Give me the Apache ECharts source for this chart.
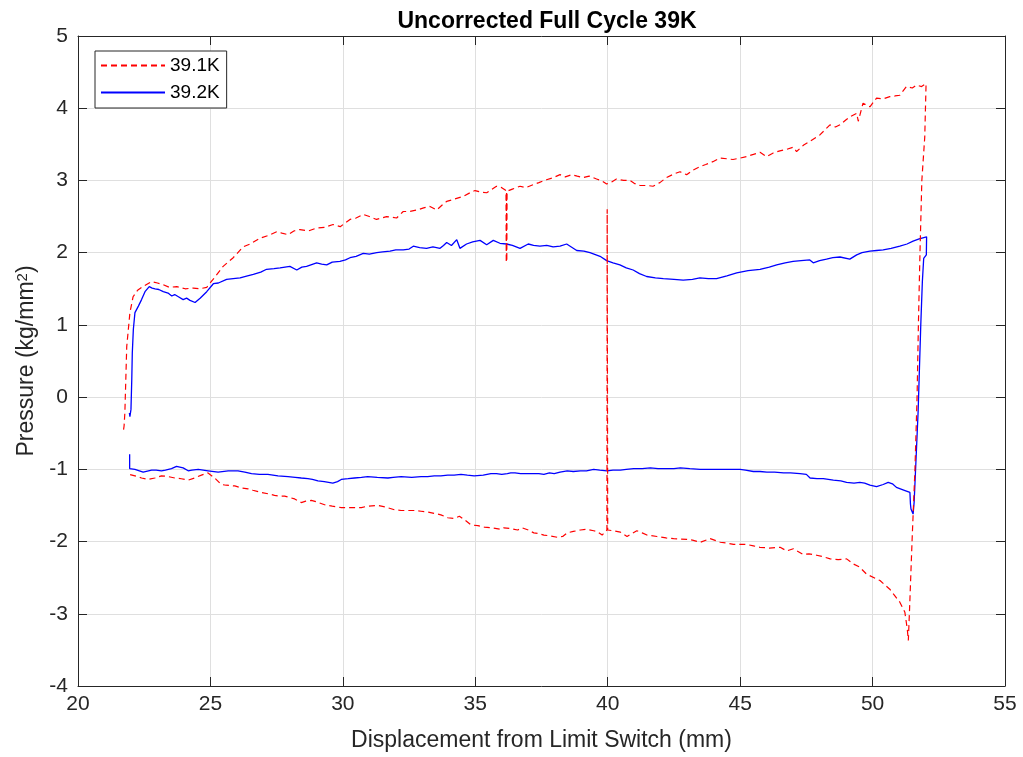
<!DOCTYPE html>
<html>
<head>
<meta charset="utf-8">
<script src="https://cdn.jsdelivr.net/npm/echarts@6/dist/echarts.min.js"></script>
<style>
html,body{margin:0;padding:0;background:#fff;}
#chart{width:1023px;height:757px;}
</style>
</head>
<body>
<div id="chart"></div>
<script>
// ---- data ----
const chartTitle = 'Uncorrected Full Cycle 39K';
const seriesNames = ['39.1K', '39.2K'];
const xRange = [20, 55];
const xStep = 5;
const yRange = [-4, 5];
const yStep = 1;

// 39.1K : displacement (mm), pressure (kg/mm^2) in the order of the cycle
const red39_1 = [
[21.72,-0.45],[21.74,-0.40],[21.77,-0.21],[21.84,0.70],[21.96,1.17],[22.08,1.39],[22.25,1.48],[22.45,1.53],[22.78,1.60],[23.0,1.58],[23.2,1.56],[23.45,1.52],[23.73,1.53],[24.05,1.50],[24.35,1.51],[24.6,1.50],[24.86,1.52],[25.1,1.63],[25.48,1.81],[25.86,1.93],[26.23,2.08],[26.5,2.12],[26.87,2.20],[27.2,2.24],[27.5,2.29],[27.7,2.27],[27.93,2.25],[28.15,2.30],[28.38,2.32],[28.7,2.30],[29.0,2.34],[29.3,2.35],[29.63,2.39],[29.9,2.36],[30.27,2.46],[30.5,2.48],[30.77,2.53],[31.0,2.50],[31.27,2.46],[31.65,2.50],[32.03,2.48],[32.28,2.57],[32.5,2.57],[32.79,2.59],[33.05,2.62],[33.29,2.64],[33.54,2.59],[33.75,2.66],[33.92,2.71],[34.2,2.74],[34.55,2.78],[34.8,2.83],[34.99,2.86],[35.2,2.84],[35.43,2.83],[35.8,2.92],[36.0,2.90],[36.16,2.86],
[36.17,1.86],[36.18,2.84],[36.19,1.88],[36.2,2.85],
[36.4,2.88],[36.69,2.92],[36.9,2.90],[37.18,2.94],[37.4,2.97],[37.69,3.01],[37.95,3.04],[38.2,3.08],[38.4,3.05],[38.64,3.08],[38.85,3.06],[39.07,3.04],[39.3,3.06],[39.58,3.02],[39.8,2.99],[39.96,2.95],[40.15,2.98],[40.33,3.02],[40.6,3.0],[40.84,3.0],[41.0,2.96],[41.22,2.93],[41.5,2.93],[41.71,2.92],[41.97,2.97],[42.22,3.04],[42.5,3.09],[42.73,3.12],[42.98,3.08],[43.2,3.14],[43.48,3.19],[43.7,3.22],[43.97,3.26],[44.24,3.31],[44.5,3.30],[44.73,3.29],[45.0,3.31],[45.24,3.33],[45.5,3.36],[45.75,3.39],[46.0,3.33],[46.25,3.38],[46.5,3.41],[46.75,3.43],[47.0,3.46],[47.13,3.40],[47.4,3.49],[47.63,3.54],[48.01,3.63],[48.2,3.70],[48.39,3.77],[48.6,3.74],[48.77,3.77],[49.0,3.84],[49.14,3.88],[49.4,3.93],[49.46,3.82],[49.64,4.07],[49.9,4.02],[50.15,4.14],[50.4,4.13],[50.65,4.16],[50.85,4.17],[51.03,4.18],[51.28,4.30],[51.5,4.28],[51.66,4.32],[51.85,4.30],[52.02,4.34],
[51.97,3.6],[51.86,3.0],[51.79,2.0],[51.73,1.0],[51.68,0.0],[51.6,-1.0],[51.49,-2.0],[51.39,-3.0],[51.35,-3.37],
[51.31,-3.21],[51.22,-2.98],[51.03,-2.84],[50.65,-2.66],[50.28,-2.54],[49.77,-2.45],[49.5,-2.35],[49.27,-2.31],[49.02,-2.24],[48.7,-2.25],[48.4,-2.24],[48.14,-2.21],[47.89,-2.19],[47.6,-2.17],[47.39,-2.18],[47.01,-2.10],[46.76,-2.13],[46.51,-2.08],[46.1,-2.09],[45.75,-2.08],[45.5,-2.06],[45.25,-2.04],[44.75,-2.04],[44.5,-2.02],[44.25,-2.01],[43.87,-1.96],[43.49,-2.01],[43.2,-1.98],[42.99,-1.97],[42.49,-1.96],[42.2,-1.95],[41.86,-1.93],[41.48,-1.91],[41.3,-1.88],[41.1,-1.85],[40.73,-1.93],[40.48,-1.87],[40.2,-1.85],[40.0,-1.84],
[39.98,2.60],[39.97,-1.84],
[39.79,-1.91],[39.6,-1.86],[39.47,-1.85],[39.2,-1.83],[38.97,-1.84],[38.7,-1.86],[38.47,-1.88],[38.3,-1.93],[38.09,-1.94],[37.8,-1.92],[37.59,-1.91],[37.4,-1.89],[37.21,-1.88],[37.0,-1.84],[36.77,-1.81],[36.6,-1.84],[36.33,-1.82],[36.08,-1.81],[35.97,-1.83],[35.6,-1.81],[35.34,-1.80],[35.1,-1.78],[34.84,-1.77],[34.6,-1.70],[34.4,-1.65],[34.2,-1.68],[33.96,-1.67],[33.7,-1.63],[33.45,-1.61],[33.2,-1.59],[32.95,-1.58],[32.7,-1.57],[32.45,-1.57],[32.2,-1.57],[31.95,-1.56],[31.6,-1.52],[31.32,-1.50],[30.94,-1.51],[30.7,-1.53],[30.44,-1.53],[29.94,-1.53],[29.6,-1.51],[29.31,-1.49],[29.0,-1.45],[28.81,-1.43],[28.6,-1.44],[28.43,-1.46],[28.18,-1.41],[27.8,-1.37],[27.6,-1.37],[27.42,-1.36],[27.2,-1.34],[26.92,-1.32],[26.6,-1.29],[26.42,-1.27],[26.2,-1.26],[25.92,-1.23],[25.6,-1.22],[25.41,-1.21],[25.16,-1.12],[24.91,-1.05],[24.66,-1.08],[24.4,-1.12],[24.16,-1.15],[23.9,-1.13],[23.66,-1.12],[23.4,-1.10],[23.15,-1.09],[22.9,-1.12],[22.65,-1.14],[22.4,-1.12],[22.15,-1.09],[21.92,-1.07]
];

// 39.2K
const blue39_2 = [
[21.94,-0.22],[21.96,-0.27],[22.0,-0.17],[22.03,0.24],[22.05,0.61],[22.09,0.94],[22.15,1.17],[22.28,1.26],[22.4,1.35],[22.53,1.46],[22.69,1.53],[22.8,1.51],[22.91,1.50],[23.05,1.49],[23.22,1.46],[23.4,1.44],[23.54,1.40],[23.65,1.42],[23.79,1.39],[23.97,1.35],[24.1,1.37],[24.23,1.34],[24.42,1.31],[24.61,1.37],[24.86,1.46],[25.11,1.57],[25.3,1.58],[25.61,1.63],[25.86,1.64],[26.12,1.65],[26.4,1.68],[26.62,1.70],[26.9,1.73],[27.12,1.77],[27.4,1.78],[27.63,1.79],[28.0,1.81],[28.26,1.76],[28.45,1.80],[28.63,1.81],[29.01,1.86],[29.2,1.84],[29.39,1.83],[29.6,1.87],[29.89,1.88],[30.1,1.90],[30.27,1.93],[30.5,1.95],[30.77,1.99],[31.0,1.98],[31.28,2.0],[31.5,2.01],[31.78,2.02],[32.0,2.04],[32.28,2.04],[32.5,2.05],[32.66,2.09],[32.9,2.07],[33.16,2.06],[33.4,2.08],[33.67,2.06],[33.8,2.10],[33.92,2.14],[34.1,2.10],[34.3,2.18],[34.42,2.06],[34.67,2.12],[34.9,2.15],[35.18,2.17],[35.43,2.11],[35.68,2.17],[35.93,2.13],[36.18,2.12],[36.4,2.10],[36.69,2.06],[37.0,2.12],[37.2,2.10],[37.44,2.09],[37.7,2.10],[37.94,2.08],[38.2,2.09],[38.45,2.12],[38.83,2.03],[39.1,2.02],[39.33,2.0],[39.71,1.95],[39.96,1.89],[40.2,1.86],[40.46,1.83],[40.7,1.79],[40.96,1.76],[41.2,1.71],[41.47,1.67],[41.8,1.65],[42.1,1.64],[42.5,1.63],[42.85,1.62],[43.2,1.63],[43.48,1.65],[43.8,1.64],[44.11,1.64],[44.5,1.68],[44.87,1.72],[45.3,1.75],[45.75,1.77],[46.1,1.80],[46.38,1.83],[46.7,1.86],[47.0,1.88],[47.3,1.89],[47.63,1.90],[47.76,1.86],[48.0,1.89],[48.26,1.91],[48.5,1.93],[48.77,1.94],[49.14,1.91],[49.4,1.97],[49.6,2.0],[49.9,2.02],[50.15,2.03],[50.4,2.04],[50.7,2.06],[51.03,2.09],[51.3,2.12],[51.53,2.16],[51.76,2.19],[52.04,2.22],
[52.03,1.97],[51.93,1.92],[51.88,1.6],[51.82,1.0],[51.77,0.4],[51.72,-0.2],[51.66,-0.7],[51.6,-1.2],[51.57,-1.45],[51.53,-1.62],[51.49,-1.64],[51.45,-1.55],[51.43,-1.48],[51.41,-1.32],
[51.2,-1.29],[50.9,-1.25],[50.75,-1.2],[50.59,-1.18],[50.4,-1.21],[50.15,-1.24],[49.9,-1.22],[49.7,-1.19],[49.52,-1.18],[49.3,-1.19],[49.02,-1.18],[48.8,-1.16],[48.52,-1.15],[48.14,-1.13],[47.9,-1.13],[47.64,-1.12],[47.5,-1.07],[47.26,-1.06],[46.9,-1.05],[46.64,-1.05],[46.3,-1.04],[46.01,-1.04],[45.75,-1.03],[45.5,-1.03],[45.2,-1.01],[45.0,-1.0],[44.6,-1.0],[44.25,-1.0],[43.9,-1.0],[43.49,-1.0],[43.1,-0.99],[42.74,-0.98],[42.5,-0.99],[42.24,-0.99],[41.9,-0.99],[41.61,-0.98],[41.3,-0.99],[40.98,-0.99],[40.7,-1.0],[40.48,-1.01],[40.2,-1.01],[39.97,-1.02],[39.7,-1.01],[39.47,-1.0],[39.2,-1.02],[38.97,-1.02],[38.7,-1.03],[38.47,-1.02],[38.2,-1.04],[37.98,-1.06],[37.8,-1.05],[37.59,-1.07],[37.4,-1.06],[37.21,-1.06],[36.95,-1.06],[36.71,-1.06],[36.5,-1.05],[36.34,-1.05],[36.21,-1.06],[36.0,-1.07],[35.8,-1.06],[35.59,-1.06],[35.3,-1.08],[34.96,-1.09],[34.7,-1.08],[34.46,-1.07],[34.2,-1.08],[33.96,-1.08],[33.7,-1.09],[33.45,-1.09],[33.2,-1.10],[32.95,-1.10],[32.6,-1.11],[32.2,-1.10],[31.9,-1.11],[31.7,-1.12],[31.3,-1.11],[30.94,-1.10],[30.7,-1.11],[30.44,-1.12],[30.2,-1.13],[29.94,-1.14],[29.8,-1.17],[29.62,-1.19],[29.3,-1.17],[29.06,-1.16],[28.85,-1.14],[28.68,-1.13],[28.43,-1.12],[28.2,-1.11],[27.93,-1.10],[27.55,-1.09],[27.17,-1.07],[26.85,-1.07],[26.55,-1.06],[26.3,-1.04],[26.04,-1.02],[25.67,-1.02],[25.29,-1.04],[24.91,-1.02],[24.54,-1.0],[24.3,-1.01],[24.16,-1.02],[23.97,-0.98],[23.72,-0.96],[23.53,-0.99],[23.3,-1.01],[23.15,-1.02],[22.95,-1.01],[22.78,-1.01],[22.46,-1.04],[22.15,-1.0],[21.95,-0.99],[21.95,-0.79]
];

// ---- chart ----
const FONT = '"Liberation Sans", Arial, Helvetica, sans-serif';
const AX = '#262626';
const GRIDC = '#dfdfdf';
const chart = echarts.init(document.getElementById('chart'), null, {renderer: 'canvas'});

function boxAxis(range, step, pos, main) {
  return {
    type: 'value', min: range[0], max: range[1], interval: step, position: pos,
    axisLine: {show: true, onZero: false, lineStyle: {color: AX, width: 1}},
    axisTick: {show: true, inside: true, length: 9, lineStyle: {color: AX, width: 1}},
    axisLabel: {show: main, color: AX, fontSize: 21, fontFamily: FONT},
    splitLine: {show: main, lineStyle: {color: GRIDC, width: 1}}
  };
}

const xMain = Object.assign(boxAxis(xRange, xStep, 'bottom', true), {
  name: 'Displacement from Limit Switch (mm)', nameLocation: 'middle', nameGap: 43,
  nameTextStyle: {color: AX, fontSize: 23, fontFamily: FONT}
});
xMain.axisLabel.margin = 8;
const xTop = boxAxis(xRange, xStep, 'top', false);
const yMain = Object.assign(boxAxis(yRange, yStep, 'left', true), {
  name: 'Pressure (kg/mm{sup|2})', nameLocation: 'middle', nameGap: 38, nameRotate: 90,
  nameTextStyle: {color: AX, fontSize: 23, fontFamily: FONT,
    rich: {sup: {fontSize: 15, fontFamily: FONT, color: AX, verticalAlign: 'top', lineHeight: 12, padding: [0, 0, 6, 0]}}}
});
yMain.axisLabel.margin = 10;
const yRight = boxAxis(yRange, yStep, 'right', false);

chart.setOption({
  animation: false,
  backgroundColor: '#ffffff',
  title: {
    text: chartTitle, left: 542, top: 5, textAlign: 'center',
    textStyle: {color: '#000', fontSize: 23, fontWeight: 'bold', fontFamily: FONT}
  },
  grid: {left: 78, right: 18, top: 36, bottom: 70, containLabel: false},
  legend: {
    data: seriesNames, orient: 'vertical', left: 95, top: 51,
    itemWidth: 64, itemHeight: 19, itemGap: 8,
    padding: [5, 7, 6, 5],
    borderColor: AX, borderWidth: 1, backgroundColor: '#fff',
    itemStyle: {opacity: 0},
    textStyle: {color: '#000', fontSize: 19, fontFamily: FONT},
    selectedMode: false
  },
  xAxis: [xMain, xTop],
  yAxis: [yMain, yRight],
  series: [
    {name: seriesNames[0], type: 'line', data: red39_1, showSymbol: false, symbol: 'none',
     lineStyle: {color: '#ff0000', width: 1.2, type: [6, 4]}, itemStyle: {color: '#ff0000'}, z: 3},
    {name: seriesNames[1], type: 'line', data: blue39_2, showSymbol: false, symbol: 'none',
     lineStyle: {color: '#0000ff', width: 1.3, type: 'solid'}, itemStyle: {color: '#0000ff'}, z: 2}
  ]
});
</script>
</body>
</html>
